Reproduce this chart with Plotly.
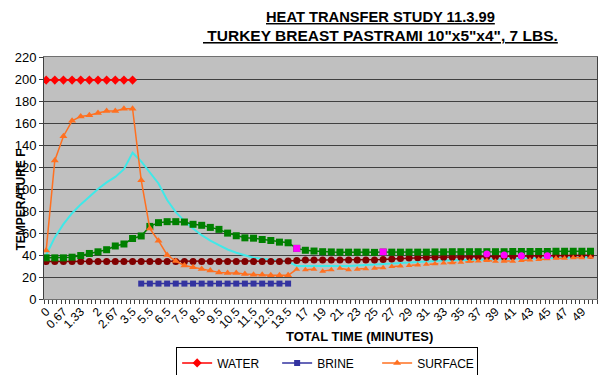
import plotly.graph_objects as go

# ---------------- data ----------------
CATEGORIES = [
    "0", "0.17", "0.33", "0.5", "0.67", "0.83", "1", "1.17", "1.33", "1.5",
    "1.67", "1.83", "2", "2.17", "2.33", "2.5", "2.67", "2.83", "3", "3.25",
    "3.5", "4", "4.5", "5", "5.5", "5.75", "6", "6.25", "6.5", "6.75",
    "7", "7.25", "7.5", "7.75", "8", "8.25", "8.5", "8.75", "9", "9.25",
    "9.5", "9.75", "10", "10.25", "10.5", "10.75", "11", "11.25", "11.5", "11.75",
    "12", "12.25", "12.5", "12.75", "13", "13.25", "13.5", "14", "15", "16",
    "17", "17.5", "18", "18.5", "19", "19.5", "20", "20.5", "21", "21.5",
    "22", "22.5", "23", "23.5", "24", "24.5", "25", "25.5", "26", "26.5",
    "27", "27.5", "28", "28.5", "29", "29.5", "30", "30.5", "31", "31.5",
    "32", "32.5", "33", "33.5", "34", "34.5", "35", "35.5", "36", "36.5",
    "37", "37.5", "38", "38.5", "39", "39.5", "40", "40.5", "41", "41.5",
    "42", "42.5", "43", "43.5", "44", "44.5", "45", "45.5", "46", "46.5",
    "47", "47.5", "48", "48.5", "49", "49.5", "50", "50.5",
]
LABELED = set(CATEGORIES[::4])
TICK_TEXT = [c if c in LABELED else "" for c in CATEGORIES]

# readings are taken every other time step
T_READ = CATEGORIES[::2]

WATER_T = T_READ[0:11]
WATER = [199, 199, 199, 199, 199, 199, 199, 199, 199, 199, 199]

BRINE_T = T_READ[11:29]
BRINE = [14] * 18

SURFACE_T = T_READ[0:29]
SURFACE = [44, 126, 148, 162, 166, 167, 169, 171, 171, 173, 173,
           108, 64, 53, 40, 34.5, 30.5, 28.8, 27.3, 25.8, 24.2,
           23.6, 23.6, 22.7, 22.1, 22.1, 21.5, 21.5, 21.5]

SURFACE2_T = T_READ[28:64]
SURFACE2 = [21.5, 27, 26.7, 27, 25.2, 26.7, 27.9, 26.7, 27, 27.5,
            28, 28.5, 29.5, 30, 30.5, 31, 31.5, 32, 32.8, 33,
            33.5, 34.3, 34.5, 34.9, 34.3, 34.3, 34.3, 34.9, 35.5, 36,
            36.5, 37, 37, 37.5, 37.5, 38]

CENTER = [37.4, 37.4, 37.4, 38, 39.5, 41.4, 42.9, 44.8, 48.2, 50,
          55, 57.3, 66, 69.4, 70.3, 70.3, 70, 67.9, 67, 65.1,
          63.3, 59.9, 57.5, 55.6, 55.3, 54.1, 53.2, 51.7, 51.1, 46,
          44.3, 43.6, 43, 42.8, 42.6, 42.6, 42.6, 42.6, 42.4, 42.6,
          42.6, 42.6, 42.6, 42.6, 42.6, 42.8, 42.8, 43, 43, 43,
          43, 43, 43, 43, 43.2, 43.2, 43.2, 43.2, 43.2, 43.4,
          43.4, 43.4, 43.4, 43.4]

AIR = [34] * 28 + [34.5, 35] + [35.5] * 9 + [35.8,
       36.3, 36.8, 37.2, 37.5, 37.7, 37.9, 38, 38, 38, 38.2,
       38.3, 38.5, 38.5, 38.5, 38.7, 39, 39.2, 39.4, 39.5, 39.6,
       39.8, 39.8, 39.8, 39.8]

MID = [40, 56, 68, 78, 86, 93, 100, 106, 111, 118,
       133, 125, 115, 105, 90, 79, 71, 64, 58, 53,
       49, 45, 42, 39.5, 37.5, 36.5, 35.7, 35, 34, 30,
       30, 29.5, 29.5, 29.5, 29.5, 30, 30.5, 31, 31.5, 32,
       32.5, 33, 33.5, 34, 34.5, 35, 35, 35.3, 35.5, 35.7,
       36, 36.2, 36.4, 36.6, 36.8, 37, 37.2, 37.4, 37.5, 37.6,
       37.7, 37.8, 37.9, 38]

MARK_SQ_T = ["15", "26"]
MARK_SQ = [46, 42.8]
MARK_CI_T = ["38", "40", "42", "45"]
MARK_CI = [41, 40, 39.3, 39.3]

assert len(CATEGORIES) == 128
for t, v in [(SURFACE_T, SURFACE), (SURFACE2_T, SURFACE2), (T_READ, CENTER),
             (T_READ, AIR), (T_READ, MID), (BRINE_T, BRINE)]:
    assert len(t) == len(v), (len(t), len(v))

FONT = "Arial, Liberation Sans, sans-serif"

fig = go.Figure()

# invisible trace to register every category
fig.add_trace(go.Scatter(x=CATEGORIES, y=[None] * len(CATEGORIES), mode="lines",
                         showlegend=False, hoverinfo="skip"))

fig.add_trace(go.Scatter(x=T_READ, y=MID, mode="lines", showlegend=False,
                         line=dict(color="#40E8E8", width=2)))
fig.add_trace(go.Scatter(x=T_READ, y=AIR, mode="lines+markers", showlegend=False,
                         line=dict(color="#800000", width=1.5),
                         marker=dict(symbol="circle", size=7, color="#800000")))
fig.add_trace(go.Scatter(x=T_READ, y=CENTER, mode="lines+markers", showlegend=False,
                         line=dict(color="#008000", width=1.5),
                         marker=dict(symbol="square", size=7, color="#008000")))
fig.add_trace(go.Scatter(x=SURFACE2_T, y=SURFACE2, mode="lines+markers", showlegend=False,
                         line=dict(color="#FF7020", width=1.5, dash="dash"),
                         marker=dict(symbol="triangle-up", size=6, color="#FF7020")))
fig.add_trace(go.Scatter(x=MARK_SQ_T, y=MARK_SQ, mode="markers", showlegend=False,
                         marker=dict(symbol="square", size=7, color="#FF00FF")))
fig.add_trace(go.Scatter(x=MARK_CI_T, y=MARK_CI, mode="markers", showlegend=False,
                         marker=dict(symbol="circle", size=7, color="#FF00FF")))

fig.add_trace(go.Scatter(x=WATER_T, y=WATER, name="WATER", mode="lines+markers",
                         line=dict(color="#FF0000", width=1.5),
                         marker=dict(symbol="diamond", size=7, color="#FF0000")))
fig.add_trace(go.Scatter(x=BRINE_T, y=BRINE, name="BRINE", mode="lines+markers",
                         line=dict(color="#3333A0", width=1.5),
                         marker=dict(symbol="square", size=6, color="#3333A0")))
fig.add_trace(go.Scatter(x=SURFACE_T, y=SURFACE, name="SURFACE", mode="lines+markers",
                         line=dict(color="#FF7020", width=1.5),
                         marker=dict(symbol="triangle-up", size=7, color="#FF7020")))

fig.update_layout(
    width=598, height=367,
    margin=dict(l=36, r=9, t=49, b=76, autoexpand=False),
    paper_bgcolor="white",
    plot_bgcolor="#C0C0C0",
    font=dict(family=FONT, size=12, color="black"),
    showlegend=True,
    legend=dict(orientation="h", x=0.512, xanchor="center", y=-0.2, yanchor="top",
                bordercolor="black", borderwidth=1, bgcolor="white",
                font=dict(size=12), entrywidth=55, tracegroupgap=0),
    xaxis=dict(type="category", categoryorder="array", categoryarray=CATEGORIES,
               range=[-0.5, len(CATEGORIES) - 0.5],
               tickmode="array", tickvals=CATEGORIES, ticktext=TICK_TEXT,
               tickangle=-45, tickfont=dict(size=12), tickson="boundaries",
               ticks="outside", ticklen=4, tickcolor="#404040",
               showgrid=False, showline=True, linecolor="#707070", linewidth=1,
               mirror=True, zeroline=False),
    yaxis=dict(range=[0, 220], dtick=20, tick0=0,
               ticks="outside", ticklen=4, tickcolor="#404040",
               tickfont=dict(size=13),
               showgrid=True, gridcolor="#404040", gridwidth=1,
               showline=True, linecolor="#404040", linewidth=1, mirror=True,
               zeroline=False),
    annotations=[
        dict(text="<b><u>HEAT TRANSFER STUDY 11.3.99</u></b>", xref="paper", yref="paper",
             x=0.6076, y=1.165, xanchor="center", yanchor="middle", showarrow=False,
             font=dict(size=14.7)),
        dict(text="<b><u>&nbsp;TURKEY BREAST PASTRAMI 10\"x5\"x4\", 7 LBS.</u></b>",
             xref="paper", yref="paper", x=0.6076, y=1.087, xanchor="center",
             yanchor="middle", showarrow=False, font=dict(size=15.5)),
        dict(text="<b>TOTAL TIME (MINUTES)</b>", xref="paper", yref="paper",
             x=0.571, y=-0.157, xanchor="center", yanchor="middle", showarrow=False,
             font=dict(size=13)),
        dict(text="<b>TEMPERATURE F</b>", xref="paper", yref="paper",
             x=-0.042, y=0.41, xanchor="center", yanchor="middle", showarrow=False,
             textangle=-90, font=dict(size=12)),
    ],
)

fig.write_html("out.html")
